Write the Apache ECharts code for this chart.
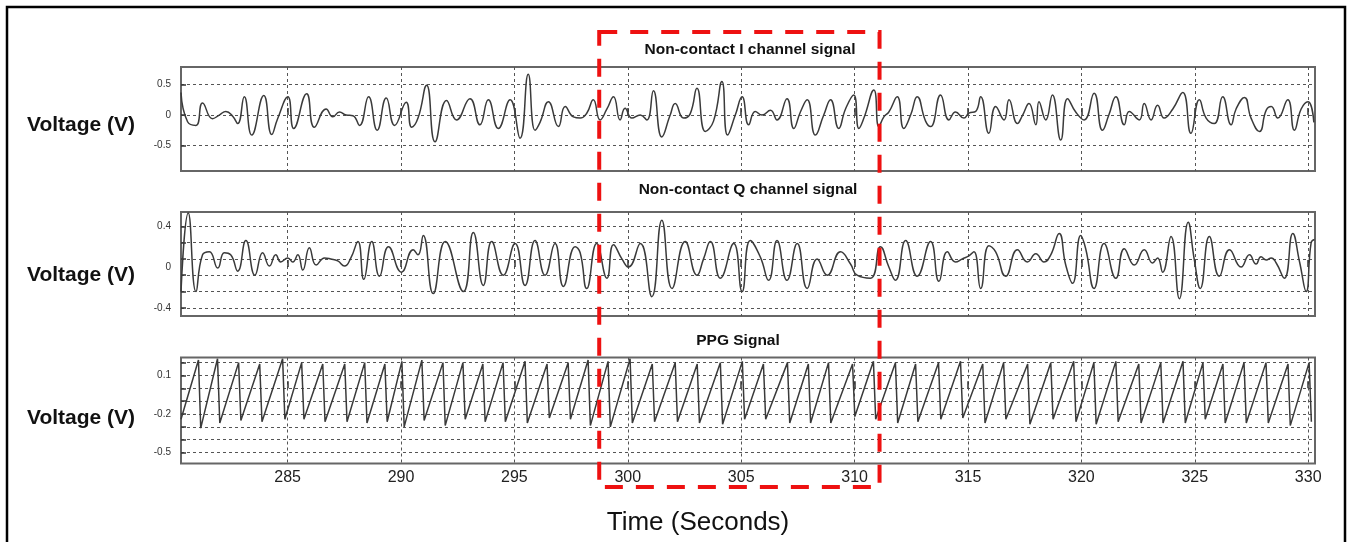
<!DOCTYPE html>
<html>
<head>
<meta charset="utf-8">
<title>Non-contact I/Q channel and PPG signals</title>
<script src="https://cdn.jsdelivr.net/npm/echarts@6/dist/echarts.min.js"></script>
<style>
  html, body { margin: 0; padding: 0; background: #fff; }
  #chart { width: 1349px; height: 542px; }
</style>
</head>
<body>
<div id="chart"></div>
<script>
// time axis, seconds
var timeRange = [280.3, 330.3];
var timeTicks = [285, 290, 295, 300, 305, 310, 315, 320, 325, 330];
// the red dashed window (seconds)
var highlightWindow = [298.74, 311.10];

// y axes: range, gridlines, labelled values
var iRange = [-0.92, 0.79];
var iGridValues = [-0.5, 0, 0.5];
var iLabelValues = [-0.5, 0, 0.5];
var qRange = [-0.48, 0.54];
var qGridValues = [-0.4, -0.24, -0.08, 0.08, 0.24, 0.4];
var qLabelValues = [-0.4, 0, 0.4];
var ppgRange = [-0.585, 0.24];
var ppgGridValues = [0.2, 0.1, 0, -0.1, -0.2, -0.3, -0.4, -0.5];
var ppgLabelValues = [0.1, -0.2, -0.5];

// [time, volts]
var iChannel = [
  [280.30,0.37],[280.59,-0.11],[280.96,-0.17],[281.25,0.20],[281.69,-0.06],[281.99,0.00],[282.28,0.06],[282.58,-0.02],
  [282.80,-0.14],[283.09,0.30],[283.42,-0.33],[283.95,0.32],[284.30,-0.32],[284.56,-0.06],[285.01,0.30],[285.27,-0.22],
  [285.84,0.35],[286.18,-0.20],[286.70,0.10],[286.99,-0.03],[287.29,0.05],[287.58,0.00],[287.88,-0.01],[288.17,-0.17],
  [288.57,0.30],[288.95,-0.25],[289.35,0.28],[289.72,-0.17],[290.23,0.21],[290.47,-0.20],[290.75,-0.05],[291.13,0.49],
  [291.50,-0.44],[292.01,0.24],[292.45,-0.08],[293.04,0.27],[293.48,-0.16],[293.85,0.25],[294.29,-0.22],[294.81,0.25],
  [295.25,-0.38],[295.61,0.67],[295.91,-0.25],[296.13,-0.12],[296.50,0.22],[296.94,-0.19],[297.24,0.14],[297.60,-0.03],
  [297.90,-0.05],[298.19,0.03],[298.48,0.25],[298.78,-0.08],[299.08,0.10],[299.37,0.30],[299.66,-0.08],[299.88,0.11],
  [300.18,-0.05],[300.55,0.00],[300.84,-0.08],[301.13,0.40],[301.50,-0.36],[301.87,0.00],[302.09,0.19],[302.46,-0.05],
  [302.75,0.02],[303.05,0.44],[303.42,-0.27],[303.78,-0.10],[304.15,0.55],[304.40,-0.33],[304.74,0.00],[305.04,0.30],
  [305.33,-0.16],[305.62,0.06],[305.92,0.00],[306.29,0.08],[306.58,-0.08],[307.02,0.27],[307.32,-0.22],[307.61,0.05],
  [307.91,0.25],[308.27,-0.33],[308.64,0.00],[308.94,0.25],[309.30,-0.22],[309.60,0.10],[309.96,0.33],[310.19,-0.22],
  [310.41,-0.05],[310.85,0.41],[311.07,-0.19],[311.29,-0.03],[311.51,0.05],[311.88,0.30],[312.17,-0.22],[312.47,0.00],
  [312.76,0.30],[313.13,-0.10],[313.35,-0.19],[313.79,0.33],[314.16,-0.08],[314.45,0.05],[314.82,-0.05],[315.04,0.03],
  [315.34,0.06],[315.56,0.30],[315.92,-0.30],[316.22,0.14],[316.59,-0.08],[316.81,0.25],[317.18,-0.14],[317.41,0.00],
  [317.69,0.19],[317.99,-0.16],[318.13,0.22],[318.43,-0.08],[318.72,0.33],[319.09,-0.41],[319.39,0.27],[319.75,0.05],
  [320.12,-0.08],[320.56,0.36],[320.93,-0.25],[321.21,0.00],[321.52,0.30],[321.89,-0.16],[322.11,0.06],[322.55,-0.08],
  [322.77,0.19],[323.07,-0.08],[323.36,0.16],[323.65,-0.05],[324.03,0.10],[324.47,0.37],[324.83,-0.30],[325.20,0.25],
  [325.50,-0.05],[325.86,-0.14],[326.23,0.30],[326.60,-0.16],[326.82,0.10],[327.19,0.29],[327.48,-0.05],[327.85,-0.27],
  [328.15,0.08],[328.37,0.14],[328.66,-0.05],[329.10,0.25],[329.39,-0.25],[329.69,0.10],[329.99,0.22],[330.25,-0.12]
];

var qChannel = [
  [280.30,-0.24],[280.62,0.53],[280.96,-0.24],[281.25,0.12],[281.55,0.15],[281.92,-0.01],[282.21,0.14],[282.49,0.12],
  [282.80,-0.04],[283.16,0.26],[283.56,-0.08],[283.90,0.14],[284.20,0.01],[284.48,0.12],[284.70,0.05],[285.01,0.09],
  [285.23,0.05],[285.45,0.12],[285.67,-0.03],[285.96,0.19],[286.26,0.02],[286.63,0.09],[286.90,0.08],[287.21,0.06],
  [287.51,0.01],[287.79,0.09],[288.10,0.25],[288.36,-0.12],[288.71,0.25],[289.05,-0.09],[289.45,0.20],[290.02,-0.05],
  [290.54,0.17],[290.75,0.12],[290.98,0.31],[291.42,-0.26],[291.95,0.25],[292.75,-0.24],[293.19,0.34],[293.63,-0.18],
  [294.00,0.25],[294.51,-0.08],[295.03,0.23],[295.47,-0.18],[295.91,0.26],[296.35,-0.08],[296.79,0.23],[297.16,-0.19],
  [297.68,0.20],[297.90,0.14],[298.19,-0.21],[298.63,0.23],[299.08,-0.11],[299.37,0.22],[299.74,0.08],[300.03,0.00],
  [300.55,0.23],[301.06,-0.29],[301.50,0.46],[301.95,-0.21],[302.53,0.25],[303.05,-0.08],[303.34,0.08],[303.64,0.25],
  [304.08,-0.11],[304.67,0.23],[305.04,-0.24],[305.40,0.26],[305.84,0.10],[306.21,-0.13],[306.58,0.26],[307.02,-0.13],
  [307.47,0.23],[307.91,-0.21],[308.35,0.08],[308.79,-0.08],[309.38,0.15],[309.82,0.03],[310.11,-0.08],[310.70,-0.11],
  [311.14,0.20],[311.51,0.00],[311.80,-0.13],[312.25,0.26],[312.76,-0.09],[313.35,0.25],[313.72,-0.14],[314.09,0.15],
  [314.45,0.05],[314.75,0.08],[315.04,0.11],[315.26,0.15],[315.56,-0.21],[315.92,0.21],[316.22,0.15],[316.66,-0.09],
  [317.18,0.17],[317.62,0.05],[317.99,0.13],[318.35,0.05],[318.65,0.12],[319.02,0.33],[319.31,0.02],[319.61,-0.16],
  [319.97,0.31],[320.19,0.18],[320.56,-0.21],[321.00,0.23],[321.52,-0.11],[321.89,0.18],[322.33,0.02],[322.77,0.17],
  [323.14,0.04],[323.36,0.09],[323.58,-0.05],[323.95,0.30],[324.32,-0.31],[324.71,0.44],[324.98,0.07],[325.24,-0.21],
  [325.64,0.30],[326.08,-0.09],[326.53,0.17],[327.04,0.00],[327.41,0.12],[327.70,0.03],[327.92,0.10],[328.15,0.07],
  [328.37,0.09],[328.59,0.04],[328.95,-0.11],[329.32,0.33],[329.62,0.05],[329.91,-0.24],[330.13,0.24],[330.28,0.27]
];

// PPG: each beat is a peak followed by a sharp drop to the trough
var ppg = [
  [280.30,-0.24],
  [281.07,0.22],[281.17,-0.31],[281.91,0.23],[282.01,-0.27],[282.84,0.20],[282.94,-0.25],[283.77,0.19],[283.87,-0.26],
  [284.78,0.23],[284.88,-0.24],[285.62,0.20],[285.72,-0.24],[286.55,0.19],[286.65,-0.26],[287.52,0.19],[287.62,-0.26],
  [288.40,0.20],[288.50,-0.27],[289.29,0.19],[289.39,-0.26],[290.04,0.21],[290.14,-0.30],[290.92,0.22],[291.02,-0.25],
  [291.85,0.20],[291.95,-0.29],[292.73,0.20],[292.83,-0.24],[293.61,0.19],[293.71,-0.26],[294.50,0.20],[294.60,-0.26],
  [295.47,0.21],[295.57,-0.27],[296.44,0.19],[296.54,-0.23],[297.37,0.20],[297.47,-0.24],[298.25,0.22],[298.35,-0.29],
  [299.13,0.21],[299.23,-0.30],[300.10,0.23],[300.20,-0.27],[301.08,0.19],[301.18,-0.26],[302.09,0.20],[302.19,-0.26],
  [303.06,0.19],[303.16,-0.27],[304.08,0.20],[304.18,-0.28],[305.05,0.21],[305.15,-0.24],[305.98,0.19],[306.08,-0.24],
  [307.04,0.20],[307.14,-0.27],[307.96,0.19],[308.06,-0.27],[308.85,0.20],[308.95,-0.27],[309.91,0.19],[310.01,-0.22],
  [310.83,0.21],[310.93,-0.24],[311.80,0.20],[311.90,-0.27],[312.69,0.19],[312.79,-0.26],[313.70,0.20],[313.80,-0.24],
  [314.67,0.21],[314.77,-0.23],[315.65,0.19],[315.75,-0.27],[316.57,0.20],[316.67,-0.24],[317.63,0.19],[317.73,-0.28],
  [318.65,0.20],[318.75,-0.24],[319.66,0.21],[319.76,-0.26],[320.55,0.20],[320.65,-0.28],[321.52,0.21],[321.62,-0.26],
  [322.53,0.19],[322.63,-0.27],[323.50,0.20],[323.60,-0.27],[324.48,0.21],[324.58,-0.27],[325.36,0.20],[325.46,-0.24],
  [326.24,0.19],[326.34,-0.27],[327.17,0.20],[327.27,-0.27],[328.14,0.20],[328.24,-0.27],[329.11,0.19],[329.21,-0.29],
  [330.04,0.20],[330.14,-0.26]
];

var FONT = '"Liberation Sans", Arial, sans-serif';
var gridLine = { show: true, lineStyle: { color: '#555', width: 1, type: [3, 3] } };

function makeX(idx, showLabels) {
  return {
    type: 'value', gridIndex: idx, min: timeRange[0], max: timeRange[1],
    axisLine: { show: false },
    axisTick: { show: true, inside: true, length: 7, customValues: timeTicks, lineStyle: { color: '#333', width: 1.5 } },
    axisLabel: { show: showLabels, customValues: timeTicks, margin: 6, fontSize: 16, color: '#222', fontFamily: FONT },
    splitLine: gridLine
  };
}

function makeY(idx, range, gridValues, labelValues) {
  return {
    type: 'value', gridIndex: idx, min: range[0], max: range[1],
    axisLine: { show: false },
    axisTick: { show: true, inside: true, length: 5, customValues: gridValues, lineStyle: { color: '#333', width: 1.5 } },
    axisLabel: { customValues: labelValues, margin: 10, fontSize: 10, color: '#333', fontFamily: FONT },
    splitLine: gridLine
  };
}

function makeSeries(idx, data, smooth) {
  return {
    type: 'line', xAxisIndex: idx, yAxisIndex: idx, data: data,
    symbol: 'none', smooth: smooth, clip: true,
    lineStyle: { color: '#3a3a3a', width: 1.5 }
  };
}

var gridBase = { left: 181, width: 1134, show: true, borderColor: '#666', borderWidth: 2, outerBoundsMode: 'none' };

var chart = echarts.init(document.getElementById('chart'));
chart.setOption({
  animation: false,
  backgroundColor: '#fff',
  grid: [
    Object.assign({ top: 67, height: 104 }, gridBase),
    Object.assign({ top: 212, height: 104 }, gridBase),
    Object.assign({ top: 357.5, height: 106 }, gridBase)
  ],
  xAxis: [makeX(0, false), makeX(1, false), makeX(2, true)],
  yAxis: [
    makeY(0, iRange, iGridValues, iLabelValues),
    makeY(1, qRange, qGridValues, qLabelValues),
    makeY(2, ppgRange, ppgGridValues, ppgLabelValues)
  ],
  series: [
    makeSeries(0, iChannel, 0.5),
    makeSeries(1, qChannel, 0.5),
    makeSeries(2, ppg, false)
  ]
});

// red window, placed through the time axis
var x0 = chart.convertToPixel({ xAxisIndex: 2 }, highlightWindow[0]);
var x1 = chart.convertToPixel({ xAxisIndex: 2 }, highlightWindow[1]);

function label(text, x, y, font, align) {
  return {
    type: 'text', x: x, y: y, z: 50,
    style: { text: text, font: font, fill: '#111', align: align || 'center', verticalAlign: 'middle' }
  };
}

chart.setOption({
  graphic: [
    { type: 'rect', z: 60, shape: { x: 7, y: 7, width: 1338, height: 560 },
      style: { fill: 'none', stroke: '#000', lineWidth: 2.5 } },
    { type: 'rect', z: 100, shape: { x: x0, y: 32, width: x1 - x0, height: 455 },
      style: { fill: 'none', stroke: '#ee1111', lineWidth: 4, lineDash: [18, 13] } },
    label('Non-contact I channel signal', 750, 50, 'bold 15.5px ' + FONT),
    label('Non-contact Q channel signal', 748, 190, 'bold 15.5px ' + FONT),
    label('PPG Signal', 738, 341, 'bold 15.5px ' + FONT),
    label('Voltage (V)', 27, 125, 'bold 21px ' + FONT, 'left'),
    label('Voltage (V)', 27, 275, 'bold 21px ' + FONT, 'left'),
    label('Voltage (V)', 27, 418, 'bold 21px ' + FONT, 'left'),
    label('Time (Seconds)', 698, 523, '26px ' + FONT)
  ]
});
</script>
</body>
</html>
